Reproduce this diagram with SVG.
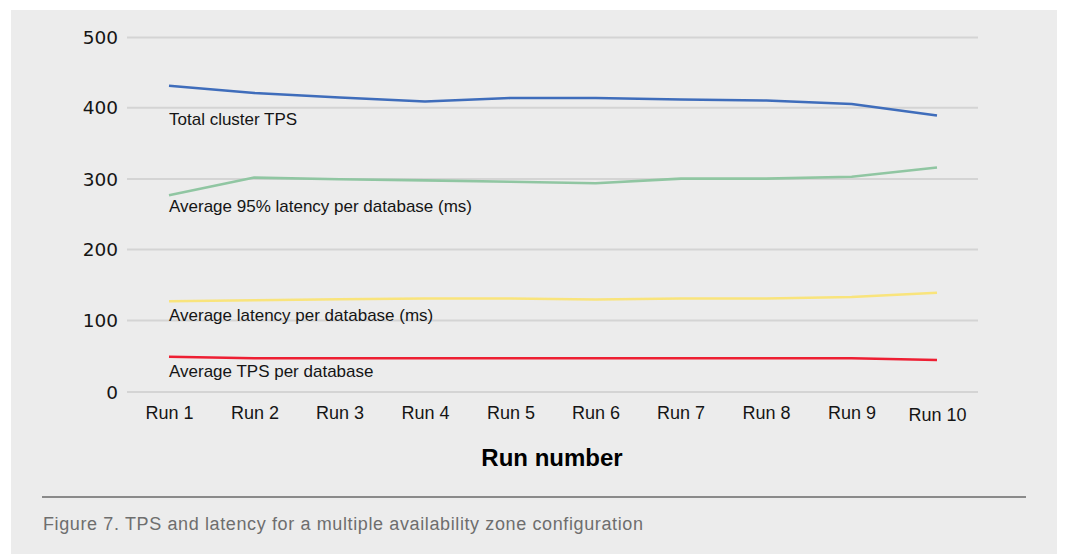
<svg xmlns="http://www.w3.org/2000/svg" width="1065" height="554" viewBox="0 0 1065 554">
  <style>
    text { font-family: "Liberation Sans", Arial, sans-serif; fill: #151515; }
    .ylab { font-family: "DejaVu Sans", "Liberation Sans", sans-serif; font-size: 18.5px; text-anchor: end; }
    .xlab { font-size: 18px; text-anchor: middle; }
    .slab { font-size: 17px; }
    .grid { stroke: #d4d4d4; stroke-width: 2; fill: none; }
    .series { fill: none; stroke-width: 2.6; stroke-linejoin: round; stroke-linecap: butt; }
    .title { font-size: 24px; font-weight: bold; text-anchor: middle; fill: #000; }
    .caption { font-size: 18px; fill: #6e6e6e; }
  </style>
  <rect x="0" y="0" width="1065" height="554" fill="#ffffff"/>
  <rect id="panel" x="11" y="10" width="1046" height="544" fill="#ececec"/>

  <g id="gridlines">
    <line class="grid" x1="127" y1="37.5" x2="978" y2="37.5"/>
    <line class="grid" x1="127" y1="107.8" x2="978" y2="107.8"/>
    <line class="grid" x1="127" y1="179" x2="978" y2="179"/>
    <line class="grid" x1="127" y1="249.5" x2="978" y2="249.5"/>
    <line class="grid" x1="127" y1="320.5" x2="978" y2="320.5"/>
    <line class="grid" x1="127" y1="392" x2="978" y2="392"/>
  </g>

  <g id="y-axis">
    <text class="ylab" x="118" y="44">500</text>
    <text class="ylab" x="118" y="114">400</text>
    <text class="ylab" x="118" y="185.5">300</text>
    <text class="ylab" x="118" y="256">200</text>
    <text class="ylab" x="118" y="327">100</text>
    <text class="ylab" x="118" y="398.5">0</text>
  </g>

  <g id="x-axis">
    <text class="xlab" x="169.5" y="419">Run 1</text>
    <text class="xlab" x="255" y="419">Run 2</text>
    <text class="xlab" x="340" y="419">Run 3</text>
    <text class="xlab" x="425.5" y="419">Run 4</text>
    <text class="xlab" x="511" y="419">Run 5</text>
    <text class="xlab" x="596" y="419">Run 6</text>
    <text class="xlab" x="681" y="419">Run 7</text>
    <text class="xlab" x="766.5" y="419">Run 8</text>
    <text class="xlab" x="852" y="419">Run 9</text>
    <text class="xlab" x="937.5" y="421">Run 10</text>
  </g>

  <g id="connectors">
    <polyline id="total-cluster-tps" class="series" stroke="#3f6dbb"
      points="169,85.7 254.3,93 339.7,97.5 425,101.5 510.3,98 595.7,98 681,99.5 766.3,100.5 851.7,104 937,115.5"/>
    <polyline id="avg-95-latency" class="series" stroke="#90c6a2"
      points="169,195.3 254.3,177.6 339.7,179.3 425,180.4 510.3,181.8 595.7,183.2 681,178.6 766.3,178.6 851.7,176.8 937,167.5"/>
    <polyline id="avg-latency" class="series" stroke="#f9e47c"
      points="169,301.3 254.3,300.2 339.7,299.2 425,298.5 510.3,298.5 595.7,299.5 681,298.5 766.3,298.5 851.7,297 937,292.7"/>
    <polyline id="avg-tps" class="series" stroke="#ee1f33"
      points="169,356.7 254.3,358.3 339.7,358.3 425,358.3 510.3,358.3 595.7,358.3 681,358.3 766.3,358.3 851.7,358.3 937,360"/>
  </g>

  <g id="series-labels">
    <text class="slab" x="169" y="125">Total cluster TPS</text>
    <text class="slab" x="169" y="212">Average 95% latency per database (ms)</text>
    <text class="slab" x="169" y="321">Average latency per database (ms)</text>
    <text class="slab" x="169" y="377">Average TPS per database</text>
  </g>

  <g id="axis-title">
    <text class="title" x="552" y="466">Run number</text>
  </g>

  <g id="footer">
    <line x1="42" y1="497" x2="1026" y2="497" stroke="#6a6a6a" stroke-width="1.5"/>
    <text class="caption" x="43" y="530" textLength="600">Figure 7. TPS and latency for a multiple availability zone configuration</text>
  </g>
</svg>
